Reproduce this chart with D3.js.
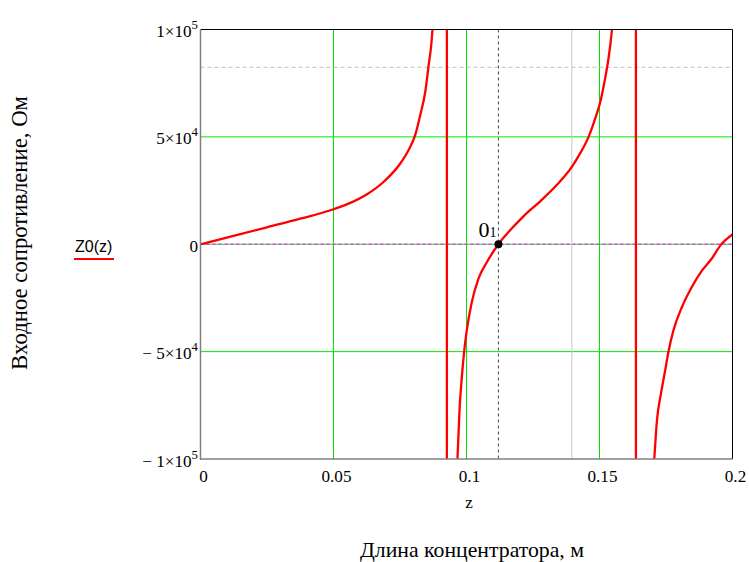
<!DOCTYPE html>
<html>
<head>
<meta charset="utf-8">
<script src="https://cdn.jsdelivr.net/npm/d3@7"></script>
<style>
  body { margin: 0; background: #fff; }
</style>
</head>
<body>
<div id="chart"></div>
<script>
// Z0(z); values beyond +/-1e5 only carry the curve to the poles
const zPoints = [0, 0.0124, 0.025, 0.0375, 0.05, 0.0563, 0.0626, 0.0688, 0.0751, 0.0782, 0.0807,
  0.0826, 0.0845, 0.0857, 0.0872, 0.0885, 0.0905, 0.0920, 0.09260,
  0.09266, 0.0935, 0.0950, 0.0966, 0.0974, 0.0983, 0.0991, 0.1002, 0.1020, 0.1045, 0.1077, 0.1120,
  0.1164, 0.1214, 0.1277, 0.1340, 0.1396, 0.1427, 0.1459, 0.1484, 0.1503, 0.1521, 0.1534, 0.1547,
  0.1570, 0.1600, 0.1630, 0.16366,
  0.16372, 0.1650, 0.1680, 0.1706, 0.1716, 0.1731, 0.1747, 0.1759, 0.1778, 0.1810, 0.1847,
  0.1885, 0.1923, 0.1956, 0.2];
const z0Values = [0, 3900, 7900, 11900, 16300, 19250, 23300, 29000, 37600, 43800, 50800,
  60100, 71000, 82700, 100100, 140000, 230000, 600000, 1500000,
  -1500000, -400000, -170000, -100000, -76600, -61100, -50200, -39300, -26900, -16000, -8250, 0,
  6500, 13000, 20000, 27700, 36000, 42300, 50000, 58600, 66300, 77200, 86600, 100100,
  140000, 230000, 600000, 1500000,
  -1500000, -400000, -160000, -100000, -82000, -69600, -58700, -50200, -40100, -29200, -19900,
  -12300, -6500, -300, 4600];

const xTicks = [0, 0.05, 0.1, 0.15, 0.2];
const xTickLabels = ["0", "0.05", "0.1", "0.15", "0.2"];
const yTicks = [100000, 50000, 0, -50000, -100000];
const yTickMantissa = ["1×10", "5×10", "0", "− 5×10", "− 1×10"];
const yTickExponent = ["5", "4", "", "4", "5"];
const xGrid = [0.05, 0.1, 0.15];
const yGrid = [50000, -50000];

const rootZ = 0.112;       // marker 0₁
const traceZ = 0.1396;     // grey vertical trace line
const traceValue = 82400;  // grey dashed horizontal trace line

const width = 749, height = 562;
const pLeft = 200.5, pRight = 732.5, pTop = 29.5, pBottom = 459;
const serif = "'Liberation Serif', 'DejaVu Serif', serif";

const svg = d3.select("#chart").append("svg")
  .attr("width", width).attr("height", height)
  .attr("font-family", serif);

// scale a text's font size so it covers the width seen in the picture
function fitSize(sel, target) {
  const w = sel.node().getComputedTextLength();
  const fs = +sel.attr("font-size");
  return fs * target / w;
}

const x = d3.scaleLinear().domain([0, 0.2]).range([pLeft, pRight]);
const y = d3.scaleLinear().domain([-100000, 100000]).range([pBottom, pTop]);

svg.append("clipPath").attr("id", "plot")
  .append("rect").attr("x", pLeft).attr("y", pTop)
  .attr("width", pRight - pLeft).attr("height", pBottom - pTop);

// grid
svg.selectAll(".vgrid").data(xGrid).enter().append("line")
  .attr("x1", d => x(d)).attr("x2", d => x(d)).attr("y1", pTop).attr("y2", pBottom)
  .attr("stroke", "#00e600").attr("stroke-width", 1);
svg.selectAll(".hgrid").data(yGrid).enter().append("line")
  .attr("x1", pLeft).attr("x2", pRight).attr("y1", d => y(d)).attr("y2", d => y(d))
  .attr("stroke", "#00e600").attr("stroke-width", 1);

// zero line: green with magenta dashes
svg.append("line").attr("x1", pLeft).attr("x2", pRight).attr("y1", y(0)).attr("y2", y(0))
  .attr("stroke", "#00e600").attr("stroke-width", 1);
svg.append("line").attr("x1", pLeft).attr("x2", pRight).attr("y1", y(0)).attr("y2", y(0))
  .attr("stroke", "#ff33ff").attr("stroke-width", 1.3).attr("stroke-dasharray", "3,3");

// trace lines
svg.append("line").attr("x1", x(traceZ)).attr("x2", x(traceZ)).attr("y1", pTop).attr("y2", pBottom)
  .attr("stroke", "#c8c8c8").attr("stroke-width", 1);
svg.append("line").attr("x1", pLeft).attr("x2", pRight).attr("y1", y(traceValue)).attr("y2", y(traceValue))
  .attr("stroke", "#c0c0c0").attr("stroke-width", 1).attr("stroke-dasharray", "4,3");
svg.append("line").attr("x1", x(rootZ)).attr("x2", x(rootZ)).attr("y1", pTop).attr("y2", pBottom)
  .attr("stroke", "#444").attr("stroke-width", 1).attr("stroke-dasharray", "3,3");

// curve
const line = d3.line().x(d => x(d[0])).y(d => y(d[1])).curve(d3.curveMonotoneX);
svg.append("path")
  .datum(d3.zip(zPoints, z0Values))
  .attr("clip-path", "url(#plot)")
  .attr("d", line)
  .attr("fill", "none").attr("stroke", "#ff0000").attr("stroke-width", 2.3);

// frame
svg.append("line").attr("x1", pLeft).attr("x2", pRight).attr("y1", pTop).attr("y2", pTop)
  .attr("stroke", "#000").attr("stroke-width", 1);
svg.append("line").attr("x1", pRight).attr("x2", pRight).attr("y1", pTop).attr("y2", pBottom)
  .attr("stroke", "#000").attr("stroke-width", 1);
svg.append("line").attr("x1", pLeft).attr("x2", pLeft).attr("y1", pTop).attr("y2", pBottom + 1)
  .attr("stroke", "#808080").attr("stroke-width", 1.5);
svg.append("line").attr("x1", pLeft).attr("x2", pRight).attr("y1", pBottom).attr("y2", pBottom)
  .attr("stroke", "#808080").attr("stroke-width", 1.5);

// marker
svg.append("circle").attr("cx", x(rootZ)).attr("cy", y(0)).attr("r", 4).attr("fill", "#000");
const mk = svg.append("text").attr("x", x(rootZ) - 2).attr("y", y(0) - 7)
  .attr("text-anchor", "end");
mk.append("tspan").attr("font-size", 22).text("0");
mk.append("tspan").attr("font-size", 14).text("1");

// tick font size from the width of "0.15" in the picture (about 30px)
const probe = svg.append("text").attr("font-size", 16).text("0.15");
const tickSize = Math.min(18, fitSize(probe, 30));
probe.remove();

// x tick labels
svg.selectAll(".xlab").data(xTicks).enter().append("text")
  .attr("x", d => x(d) + 3).attr("y", 482)
  .attr("text-anchor", "middle").attr("font-size", tickSize)
  .text((d, i) => xTickLabels[i]);

// y tick labels
const yl = svg.selectAll(".ylab").data(yTicks).enter().append("text")
  .attr("x", 198).attr("y", d => y(d) + 7.5)
  .attr("text-anchor", "end").attr("font-size", tickSize);
yl.append("tspan").text((d, i) => yTickMantissa[i]);
yl.append("tspan").attr("font-size", tickSize * 0.75).attr("dy", -8).text((d, i) => yTickExponent[i]);

// axis names
svg.append("text").attr("x", 469).attr("y", 508).attr("text-anchor", "middle")
  .attr("font-size", tickSize).text("z");
const xTitle = svg.append("text").attr("x", 472).attr("y", 557).attr("text-anchor", "middle")
  .attr("font-size", 20).text("Длина концентратора, м");
xTitle.attr("font-size", fitSize(xTitle, 224));
const yTitle = svg.append("text").attr("transform", "translate(27,233) rotate(-90)")
  .attr("text-anchor", "middle").attr("font-size", 20)
  .text("Входное сопротивление, Ом");
yTitle.attr("font-size", fitSize(yTitle, 274));

// legend
svg.append("text").attr("x", 75).attr("y", 252)
  .attr("font-family", "'Liberation Sans', Arial, sans-serif")
  .attr("font-size", 16).text("Z0(z)");
svg.append("line").attr("x1", 74).attr("x2", 114).attr("y1", 259).attr("y2", 259)
  .attr("stroke", "#ff0000").attr("stroke-width", 2);
</script>
</body>
</html>
